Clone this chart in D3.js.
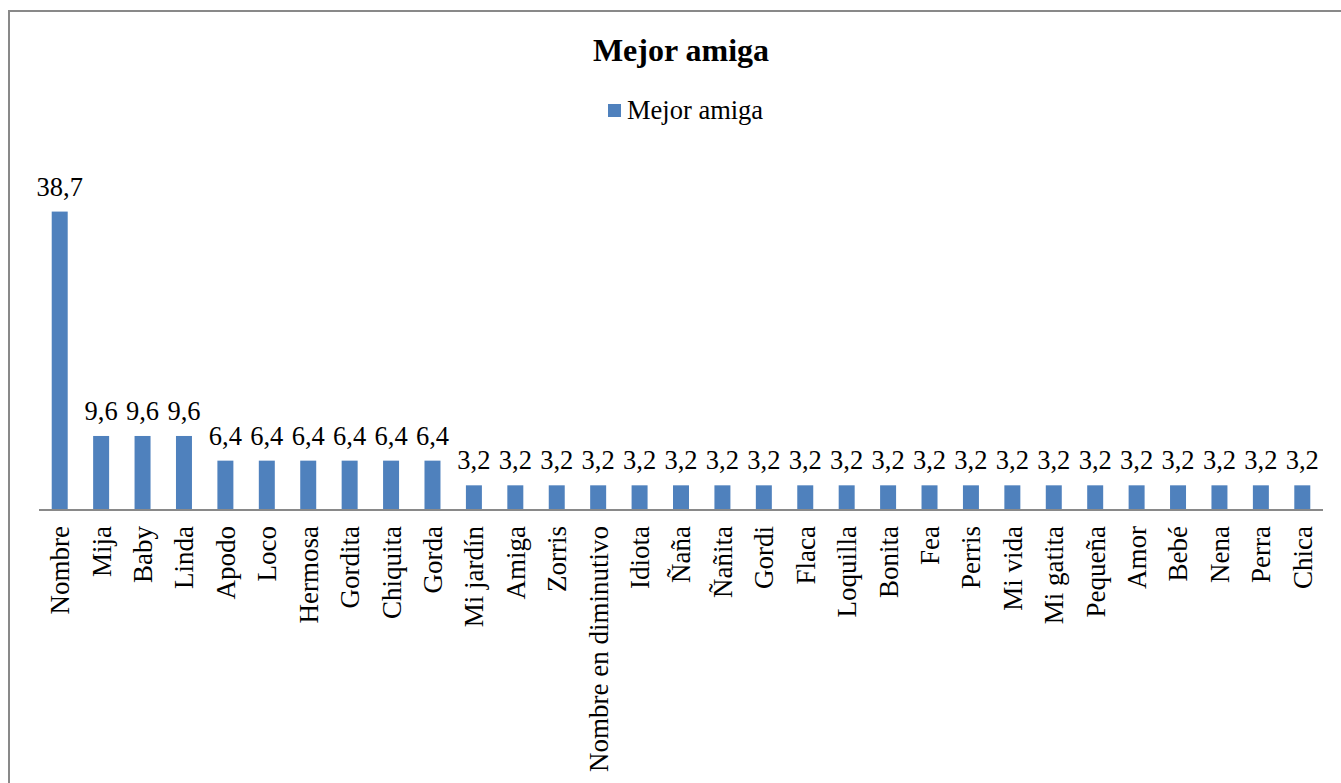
<!DOCTYPE html>
<html>
<head>
<meta charset="utf-8">
<script src="https://cdn.jsdelivr.net/npm/d3@7"></script>
<style>
  html, body { margin: 0; padding: 0; background: #ffffff; }
  svg { display: block; font-family: "Liberation Serif", "Times New Roman", serif; }
</style>
</head>
<body>
<svg id="chart" width="1341" height="783"></svg>
<script>
// Categories and values of the single series
const categories = [
  "Nombre", "Mija", "Baby", "Linda", "Apodo", "Loco", "Hermosa", "Gordita",
  "Chiquita", "Gorda", "Mi jardín", "Amiga", "Zorris", "Nombre en diminutivo",
  "Idiota", "Ñaña", "Ñañita", "Gordi", "Flaca", "Loquilla", "Bonita", "Fea",
  "Perris", "Mi vida", "Mi gatita", "Pequeña", "Amor", "Bebé", "Nena", "Perra", "Chica"
];
const values = [
  38.7, 9.6, 9.6, 9.6, 6.4, 6.4, 6.4, 6.4,
  6.4, 6.4, 3.2, 3.2, 3.2, 3.2,
  3.2, 3.2, 3.2, 3.2, 3.2, 3.2, 3.2, 3.2,
  3.2, 3.2, 3.2, 3.2, 3.2, 3.2, 3.2, 3.2, 3.2
];
const seriesName = "Mejor amiga";
const chartTitle = "Mejor amiga";
const yDomain = [0, 45];

const data = categories.map((c, i) => ({ cat: c, val: values[i] }));

const svg = d3.select("#chart");
const barColor = "#4F81BD";
const frameColor = "#898989";
const serif = "'Liberation Serif', 'Times New Roman', serif";

// Chart frame
svg.append("rect")
  .attr("x", 9).attr("y", 11)
  .attr("width", 1360).attr("height", 800)
  .attr("fill", "none")
  .attr("stroke", frameColor)
  .attr("stroke-width", 2);

// Plot geometry
const plot = { left: 39, right: 1323, bottom: 510, top: 163 };

const x = d3.scaleBand()
  .domain(categories)
  .range([plot.left, plot.right])
  .paddingInner(0.614)
  .paddingOuter(0.307);

const y = d3.scaleLinear()
  .domain(yDomain)
  .range([plot.bottom, plot.top]);

// Title
svg.append("text")
  .attr("x", 681).attr("y", 61)
  .attr("text-anchor", "middle")
  .attr("font-family", serif)
  .attr("font-size", 32)
  .attr("font-weight", "bold")
  .attr("fill", "#000")
  .text(chartTitle);

// Legend
const legend = svg.append("g").attr("transform", "translate(608,104)");
legend.append("rect")
  .attr("x", 0).attr("y", 0)
  .attr("width", 13).attr("height", 13)
  .attr("fill", barColor);
legend.append("text")
  .attr("x", 19).attr("y", 15)
  .attr("font-family", serif)
  .attr("font-size", 26.5)
  .attr("fill", "#000")
  .text(seriesName);

// Bars
svg.append("g")
  .selectAll("rect")
  .data(data)
  .join("rect")
  .attr("x", d => x(d.cat))
  .attr("y", d => y(d.val))
  .attr("width", x.bandwidth())
  .attr("height", d => y(0) - y(d.val))
  .attr("fill", barColor);

// Value labels
const fmt = v => d3.format(".1f")(v).replace(".", ",");
svg.append("g")
  .selectAll("text")
  .data(data)
  .join("text")
  .attr("x", d => x(d.cat) + x.bandwidth() / 2)
  .attr("y", d => y(d.val) - 16)
  .attr("text-anchor", "middle")
  .attr("font-family", serif)
  .attr("font-size", 26.5)
  .attr("fill", "#000")
  .text(d => fmt(d.val));

// Category axis
const xAxis = d3.axisBottom(x).tickSize(0).tickPadding(0);
const gx = svg.append("g")
  .attr("transform", `translate(0,${plot.bottom})`)
  .call(xAxis);
gx.attr("font-family", serif);
gx.select(".domain")
  .attr("d", `M${plot.left},0H${plot.right}`)
  .attr("stroke", frameColor)
  .attr("stroke-width", 2);
gx.selectAll(".tick text")
  .attr("font-family", serif)
  .attr("font-size", 27)
  .attr("fill", "#000")
  .attr("text-anchor", "end")
  .attr("transform", "translate(0,16) rotate(-90)")
  .attr("x", 0)
  .attr("y", 0)
  .attr("dy", "0.35em");
</script>
</body>
</html>
